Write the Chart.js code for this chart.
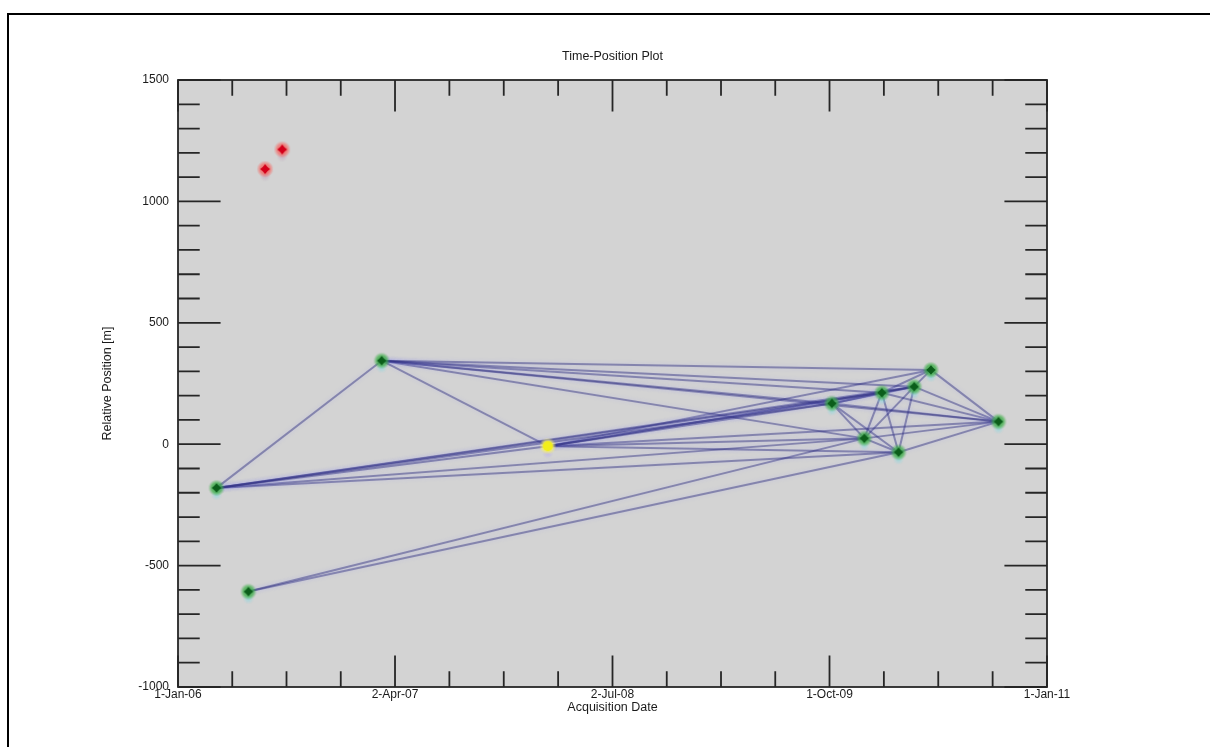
<!DOCTYPE html>
<html><head><meta charset="utf-8">
<script src="https://cdn.jsdelivr.net/npm/chart.js@4.4.1/dist/chart.umd.min.js"></script>
<style>html,body{margin:0;padding:0;background:#fff;}canvas{display:block}</style>
</head><body>
<canvas id="c" width="1218" height="747"></canvas>
<script>
// ---------------- data ----------------
const axisStart = '2006-01-01';
const axisEnd = '2011-01-01';
const xTickDates = ['2006-01-01', '2007-04-02', '2008-07-02', '2009-10-01', '2011-01-01'];
const yTickValues = [-1000, -500, 0, 500, 1000, 1500];
const pointNames = ['A', 'B', 'R1', 'R2', 'C', 'Y', 'D', 'E', 'F', 'G', 'H', 'I', 'J'];
const pointDates = ['2006-03-23', '2006-05-29', '2006-07-03', '2006-08-08', '2007-03-05', '2008-02-17',
  '2009-10-06', '2009-12-13', '2010-01-19', '2010-02-23', '2010-03-28', '2010-05-02', '2010-09-21'];
const pointPositions = [-180, -607, 1133, 1214, 344, -8, 168, 24, 212, -33, 237, 306, 93];
const pointStatus = ['ok', 'ok', 'rejected', 'rejected', 'ok', 'master', 'ok', 'ok', 'ok', 'ok', 'ok', 'ok', 'ok'];
const connections = [
  ['A', 'C'], ['A', 'Y'], ['A', 'D'], ['A', 'F'], ['A', 'H'], ['A', 'E'], ['A', 'G'],
  ['B', 'E'], ['B', 'G'],
  ['C', 'Y'], ['C', 'I'], ['C', 'H'], ['C', 'F'], ['C', 'D'], ['C', 'E'], ['C', 'J'],
  ['Y', 'D'], ['Y', 'F'], ['Y', 'H'], ['Y', 'I'], ['Y', 'E'], ['Y', 'G'], ['Y', 'J'],
  ['D', 'F'], ['D', 'H'], ['D', 'E'], ['D', 'G'], ['D', 'J'],
  ['E', 'F'], ['E', 'H'], ['E', 'G'], ['E', 'J'],
  ['F', 'H'], ['F', 'I'], ['F', 'G'], ['F', 'J'],
  ['G', 'H'], ['G', 'J'],
  ['H', 'I'], ['H', 'J'],
  ['I', 'J']
];

// ---------------- helpers ----------------
const DAY = 86400000;
const t0 = Date.parse(axisStart + 'T00:00:00Z');
const toDays = s => (Date.parse(s + 'T00:00:00Z') - t0) / DAY;
const MONTHS = ['Jan','Feb','Mar','Apr','May','Jun','Jul','Aug','Sep','Oct','Nov','Dec'];
function fmtDay(v) {
  const d = new Date(t0 + Math.round(v) * DAY);
  return d.getUTCDate() + '-' + MONTHS[d.getUTCMonth()] + '-' + String(d.getUTCFullYear()).slice(2);
}
const xMin = 0, xMax = toDays(axisEnd);
const xMajor = xTickDates.map(toDays);
const xMinor = [];
for (let i = 0; i < xMajor.length - 1; i++) {
  for (let k = 1; k < 4; k++) xMinor.push(xMajor[i] + (xMajor[i + 1] - xMajor[i]) * k / 4);
}
const yMinor = [];
for (let i = 0; i < yTickValues.length - 1; i++) {
  for (let k = 1; k < 5; k++) yMinor.push(yTickValues[i] + (yTickValues[i + 1] - yTickValues[i]) * k / 5);
}

function makeMarker(core, halo, shadow, r, round) {
  const W = 28, H = 38, cx = 14, cy = 19;
  const c = document.createElement('canvas'); c.width = W; c.height = H;
  const g = c.getContext('2d');
  let gr = g.createRadialGradient(cx, cy + 7, 0, cx, cy + 7, 5.5);
  gr.addColorStop(0, shadow[0]); gr.addColorStop(1, shadow[1]);
  g.fillStyle = gr; g.fillRect(0, 0, W, H);
  gr = g.createRadialGradient(cx, cy, 0, cx, cy, r + 3.5);
  gr.addColorStop(0, halo[0]); gr.addColorStop(0.6, halo[0]); gr.addColorStop(1, halo[1]);
  g.fillStyle = gr; g.fillRect(0, 0, W, H);
  g.fillStyle = core;
  g.beginPath();
  if (round) {
    g.arc(cx, cy, r, 0, Math.PI * 2);
  } else {
    for (let i = 0; i < 8; i++) {
      const a = i * Math.PI / 4 - Math.PI / 2;
      const rr = i % 2 === 0 ? r : r * 0.66;
      const px = cx + rr * Math.cos(a), py = cy + rr * Math.sin(a);
      if (i === 0) g.moveTo(px, py); else g.lineTo(px, py);
    }
    g.closePath();
  }
  g.fill();
  return c;
}
const markers = {
  ok: makeMarker('#0b5e1a', ['rgba(60,175,70,0.75)', 'rgba(60,175,70,0)'], ['rgba(130,215,225,0.65)', 'rgba(130,215,225,0)'], 4.8, false),
  rejected: makeMarker('#d4001a', ['rgba(245,100,95,0.7)', 'rgba(245,100,95,0)'], ['rgba(195,170,190,0.75)', 'rgba(195,170,190,0)'], 5.0, false),
  master: makeMarker('#f2ee1a', ['rgba(245,240,110,0.8)', 'rgba(245,240,110,0)'], ['rgba(185,175,240,0.75)', 'rgba(185,175,240,0)'], 5.0, true)
};

const pts = pointNames.map((n, i) => ({ x: toDays(pointDates[i]), y: pointPositions[i] }));
const idx = n => pointNames.indexOf(n);

const lineSets = connections.map(([a, b]) => ({
  type: 'line',
  data: [pts[idx(a)], pts[idx(b)]],
  borderColor: 'rgba(45,45,125,0.45)',
  borderWidth: 2,
  pointRadius: 0,
  fill: false,
  order: 2,
  glow: true
}));
const pointSet = {
  type: 'scatter',
  data: pts,
  pointStyle: pointStatus.map(s => markers[s]),
  pointRadius: 6,
  order: 0
};

// ---------------- plugin: plot box, inside ticks, frame ----------------
const boxPlugin = {
  id: 'box',
  beforeDatasetsDraw(chart) {
    const { ctx, chartArea: a } = chart;
    ctx.save(); ctx.fillStyle = '#d3d3d3';
    ctx.fillRect(a.left, a.top, a.right - a.left, a.bottom - a.top);
    ctx.restore();
  },
  beforeDatasetDraw(chart, args) {
    if (chart.data.datasets[args.index].glow) {
      chart.ctx.save();
      chart.ctx.shadowColor = 'rgba(140,140,255,0.5)';
      chart.ctx.shadowBlur = 4;
    }
  },
  afterDatasetDraw(chart, args) {
    if (chart.data.datasets[args.index].glow) chart.ctx.restore();
  },
  afterDatasetsDraw(chart) {
    const { ctx, chartArea: a, scales } = chart;
    const xs = scales.x, ys = scales.y;
    const w = a.right - a.left, h = a.bottom - a.top;
    ctx.save();
    ctx.strokeStyle = '#262626'; ctx.lineWidth = 1.8;
    ctx.beginPath();
    const vt = (v, len) => { const p = xs.getPixelForValue(v);
      ctx.moveTo(p, a.bottom); ctx.lineTo(p, a.bottom - len);
      ctx.moveTo(p, a.top); ctx.lineTo(p, a.top + len); };
    const ht = (v, len) => { const p = ys.getPixelForValue(v);
      ctx.moveTo(a.left, p); ctx.lineTo(a.left + len, p);
      ctx.moveTo(a.right, p); ctx.lineTo(a.right - len, p); };
    xMajor.forEach(v => vt(v, h * 0.052));
    xMinor.forEach(v => vt(v, h * 0.026));
    yTickValues.forEach(v => ht(v, w * 0.049));
    yMinor.forEach(v => ht(v, w * 0.025));
    ctx.stroke();
    ctx.lineWidth = 1.8;
    ctx.strokeRect(a.left, a.top, w, h);
    ctx.restore();
  },
  afterDraw(chart) {
    const { ctx } = chart;
    ctx.save(); ctx.strokeStyle = '#000'; ctx.lineWidth = 2;
    ctx.beginPath();
    ctx.moveTo(8, 760); ctx.lineTo(8, 14); ctx.lineTo(1210, 14);
    ctx.stroke(); ctx.restore();
  }
};

const FONT = 'Liberation Sans, Arial, Helvetica, sans-serif';
const TXT = '#1a1a1a';
Chart.defaults.font.family = FONT;

new Chart(document.getElementById('c'), {
  data: { datasets: [pointSet, ...lineSets] },
  options: {
    responsive: false,
    animation: false,
    devicePixelRatio: 1,
    layout: { padding: 0 },
    plugins: { legend: { display: false }, tooltip: { enabled: false }, title: { display: false } },
    scales: {
      x: {
        type: 'linear', position: 'bottom', min: xMin, max: xMax,
        afterBuildTicks(s) { s.ticks = xMajor.map(v => ({ value: v })); },
        afterFit(s) { s.height = 60; },
        ticks: { autoSkip: false, maxRotation: 0, minRotation: 0, padding: 0, color: TXT,
          font: { size: 12 }, callback: v => fmtDay(v) },
        grid: { display: false, drawTicks: false }, border: { display: false },
        title: { display: true, text: 'Acquisition Date', color: TXT, font: { size: 12.5 }, padding: { top: 0, bottom: 32 } }
      },
      x2: {
        type: 'linear', position: 'top', display: true, min: xMin, max: xMax,
        afterFit(s) { s.height = 80; },
        ticks: { display: false }, grid: { display: false, drawTicks: false }, border: { display: false },
        title: { display: true, text: 'Time-Position Plot', color: TXT, font: { size: 12.5 }, padding: { top: 49, bottom: 0 } }
      },
      y: {
        type: 'linear', position: 'left', min: -1000, max: 1500,
        afterBuildTicks(s) { s.ticks = yTickValues.map(v => ({ value: v })); },
        afterFit(s) { s.width = 178; },
        ticks: { padding: 9, color: TXT, font: { size: 12 }, callback: v => String(v) },
        grid: { display: false, drawTicks: false }, border: { display: false },
        title: { display: true, text: 'Relative Position [m]', color: TXT, font: { size: 12.5 }, padding: { top: 100, bottom: 0 } }
      },
      y2: {
        type: 'linear', position: 'right', display: true, min: -1000, max: 1500,
        afterFit(s) { s.width = 171; },
        ticks: { display: false }, grid: { display: false, drawTicks: false }, border: { display: false }
      }
    }
  },
  plugins: [boxPlugin]
});
</script>
</body></html>
